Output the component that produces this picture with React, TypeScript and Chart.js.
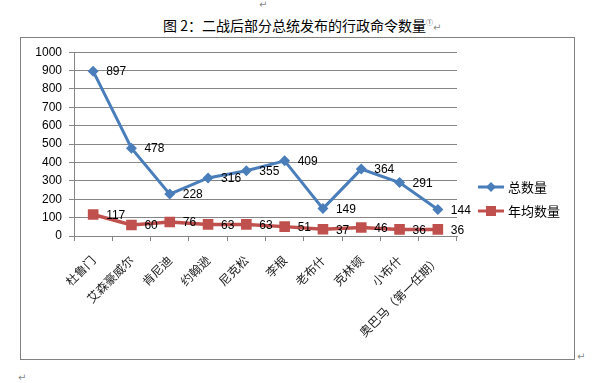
import React, { useEffect, useRef } from 'react';
import { Chart, registerables } from 'chart.js';

Chart.register(...registerables);

const categories = ['杜鲁门', '艾森豪威尔', '肯尼迪', '约翰逊', '尼克松', '李根', '老布什', '克林顿', '小布什', '奥巴马（第一任期）'];
const totalLabel = '总数量';
const annualLabel = '年均数量';
const totals = [897, 478, 228, 316, 355, 409, 149, 364, 291, 144];
const annual = [117, 60, 76, 63, 63, 51, 37, 46, 36, 36];
const yMin = 0;
const yMax = 1000;
const yStep = 100;

const BLUE = '#4A7EBB';
const RED = '#C0504D';
const GRID = '#868686';
const NUM_FONT = '12px "Liberation Sans", Arial, sans-serif';
const CJK = '"Noto Sans CJK SC", sans-serif';

const dataLabelPlugin = {
  id: 'dataLabels',
  afterDatasetsDraw(chart: any) {
    const ctx = chart.ctx;
    ctx.save();
    ctx.font = NUM_FONT;
    ctx.fillStyle = '#000';
    ctx.textAlign = 'left';
    ctx.textBaseline = 'middle';
    chart.data.datasets.forEach((ds: any, i: number) => {
      const meta = chart.getDatasetMeta(i);
      meta.data.forEach((pt: any, j: number) => {
        ctx.fillText(String(ds.data[j]), pt.x + 13, pt.y + 1);
      });
    });
    ctx.restore();
  },
};

const legendPlugin = {
  id: 'customLegend',
  afterDraw(chart: any) {
    const ctx = chart.ctx;
    const x0 = chart.chartArea.right + 21;
    const rows = [
      { y: 149, ds: chart.data.datasets[0], shape: 'diamond' },
      { y: 173, ds: chart.data.datasets[1], shape: 'square' },
    ];
    ctx.save();
    rows.forEach((r) => {
      ctx.strokeStyle = r.ds.borderColor;
      ctx.lineWidth = 3;
      ctx.beginPath();
      ctx.moveTo(x0, r.y);
      ctx.lineTo(x0 + 26, r.y);
      ctx.stroke();
      ctx.fillStyle = r.ds.borderColor;
      const cx = x0 + 13;
      ctx.beginPath();
      if (r.shape === 'diamond') {
        ctx.moveTo(cx, r.y - 5);
        ctx.lineTo(cx + 5, r.y);
        ctx.lineTo(cx, r.y + 5);
        ctx.lineTo(cx - 5, r.y);
        ctx.closePath();
      } else {
        ctx.rect(cx - 5, r.y - 5, 10, 10);
      }
      ctx.fill();
      ctx.fillStyle = '#000';
      ctx.font = '13px ' + CJK;
      ctx.textAlign = 'left';
      ctx.textBaseline = 'middle';
      ctx.fillText(r.ds.label, x0 + 30, r.y);
    });
    ctx.restore();
  },
};

function ChartBox() {
  const ref = useRef<HTMLCanvasElement | null>(null);
  useEffect(() => {
    if (!ref.current) return;
    const chart = new Chart(ref.current, {
      type: 'line',
      data: {
        labels: categories,
        datasets: [
          {
            label: totalLabel,
            data: totals,
            borderColor: BLUE,
            backgroundColor: BLUE,
            borderWidth: 3,
            pointStyle: 'rectRot',
            pointRadius: 5.5,
            pointBorderWidth: 0,
            tension: 0,
          },
          {
            label: annualLabel,
            data: annual,
            borderColor: RED,
            backgroundColor: RED,
            borderWidth: 3.5,
            pointStyle: 'rect',
            pointRadius: 7.5,
            pointBorderWidth: 0,
            tension: 0,
          },
        ],
      },
      options: {
        animation: false,
        responsive: false,
        devicePixelRatio: 1,
        layout: { padding: { top: 14, right: 117, left: 0, bottom: 0 } },
        plugins: {
          legend: { display: false },
          tooltip: { enabled: false },
          title: { display: false },
        },
        scales: {
          x: {
            type: 'category',
            offset: true,
            grid: {
              display: true,
              drawOnChartArea: false,
              drawTicks: true,
              tickLength: 5,
              offset: true,
              color: GRID,
            },
            border: { display: true, color: GRID, width: 1 },
            ticks: {
              autoSkip: false,
              maxRotation: 45,
              minRotation: 45,
              padding: 12,
              color: '#222',
              font: { family: CJK, size: 12 },
            },
            afterFit: (s: any) => {
              s.height = 123;
            },
          },
          y: {
            min: yMin,
            max: yMax,
            ticks: {
              stepSize: yStep,
              padding: 7,
              color: '#000',
              font: { family: '"Liberation Sans", Arial, sans-serif', size: 12 },
              callback: (v: any) => String(v),
            },
            grid: { color: GRID, tickLength: 5, drawTicks: true },
            border: { display: true, color: GRID, width: 1 },
            afterFit: (s: any) => {
              s.width = 53;
            },
          },
        },
      },
      plugins: [dataLabelPlugin, legendPlugin],
    });
    return () => chart.destroy();
  }, []);
  return (
    <canvas
      ref={ref}
      width={553}
      height={321}
      style={{ position: 'absolute', left: 21, top: 38, width: 553, height: 321 }}
    />
  );
}

const mark: React.CSSProperties = {
  position: 'absolute',
  color: '#8a8a8a',
  fontSize: 10,
  fontFamily: '"DejaVu Sans", sans-serif',
  lineHeight: '10px',
};

export default function App() {
  return (
    <div style={{ position: 'absolute', left: 0, top: 0, width: 594, height: 383, background: '#fff', overflow: 'hidden' }}>
      <span style={{ ...mark, left: 259, top: 0 }}>↵</span>
      <div
        style={{
          position: 'absolute',
          left: 163,
          top: 14,
          fontFamily: CJK,
          fontSize: 14,
          lineHeight: '16px',
          color: '#000',
          whiteSpace: 'nowrap',
        }}
      >
        图 2：二战后部分总统发布的行政命令数量
        <span style={{ fontSize: 7, verticalAlign: 'super', color: '#444' }}>①</span>
        <span style={{ color: '#8a8a8a', fontSize: 10, fontFamily: '"DejaVu Sans", sans-serif' }}>↵</span>
      </div>
      <div
        style={{
          position: 'absolute',
          left: 20,
          top: 37,
          width: 555,
          height: 323,
          boxSizing: 'border-box',
          border: '1px solid #808080',
        }}
      />
      <ChartBox />
      <span style={{ ...mark, left: 577, top: 352 }}>↵</span>
      <span style={{ ...mark, left: 18, top: 373 }}>↵</span>
    </div>
  );
}
